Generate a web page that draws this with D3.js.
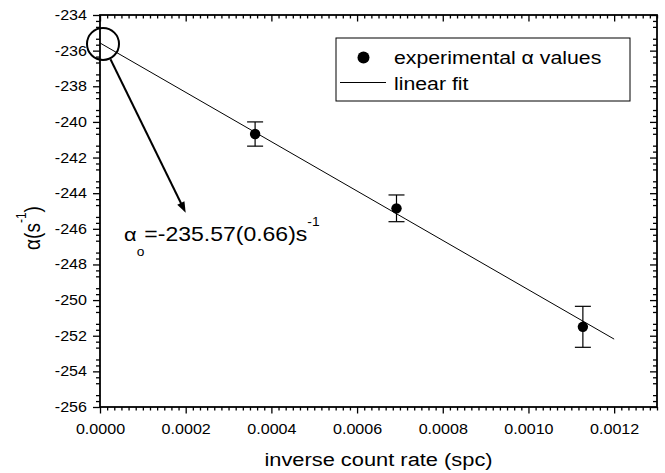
<!DOCTYPE html>
<html><head><meta charset="utf-8">
<script src="https://cdn.jsdelivr.net/npm/d3@7"></script>
<style>
body{margin:0;background:#fff}
svg{display:block;background:#fff}
text{font-family:Arial,"Liberation Sans",sans-serif;fill:#000}
</style>
</head><body>
<svg id="chart" width="665" height="473"></svg>
<script>
// ---- data ----
const xData = [0.000362, 0.000692, 0.001127];
const yData = [-240.68, -244.85, -251.50];
const yErr  = [0.68, 0.75, 1.15];
const fitX = [0, 0.0012];
const fitY = [-235.57, -252.19];
const xTicks = [0, 0.0002, 0.0004, 0.0006, 0.0008, 0.0010, 0.0012];
const yTicks = [-256, -254, -252, -250, -248, -246, -244, -242, -240, -238, -236, -234];
const xDomain = [0, 0.0013];
const yDomain = [-256, -234];
const legendLabels = ["experimental \u03b1 values", "linear fit"];
const xTitle = "inverse count rate (spc)";
const annotIntercept = [0, -235.57];   // circled point (data coords)
const annotTip = [0.0002, -245.1];     // arrow tip (data coords)
const annotTextAt = [0.000056, -246.68];
const annotValue = "=-235.57(0.66)s";

// ---- layout ----
const SX = 1.15; // horizontal text stretch of the reference
const svg = d3.select("#chart");
const x = d3.scaleLinear().domain(xDomain).range([100, 657]);
const y = d3.scaleLinear().domain(yDomain).range([407, 15]);

const xMinor = d3.range(0, 79).map(i => i * 0.0002 / 12).filter((d, i) => i % 12 !== 0);
const yMinor = d3.range(0, 67).map(i => yDomain[0] + i / 3).filter((d, i) => i % 3 !== 0);

function styleAxis(g) {
  g.select(".domain").remove();
  g.selectAll("line").attr("stroke", "#000").attr("stroke-width", 1.3);
}

// bottom
svg.append("g").attr("transform", `translate(0,${y.range()[0]})`)
  .call(d3.axisBottom(x).tickValues(xMinor).tickFormat("").tickSize(3.5)).call(styleAxis);
const gb = svg.append("g").attr("transform", `translate(0,${y.range()[0]})`)
  .call(d3.axisBottom(x).tickValues(xTicks).tickFormat(d3.format(".4f")).tickSize(6.5).tickPadding(11)).call(styleAxis);
gb.selectAll("text").attr("font-size", 14).attr("font-family", "Arial, 'Liberation Sans', sans-serif")
  .attr("transform", `scale(${SX},1)`);
// top (inward)
svg.append("g").attr("transform", `translate(0,${y.range()[1]})`)
  .call(d3.axisTop(x).tickValues(xMinor).tickFormat("").tickSize(-3.5)).call(styleAxis);
svg.append("g").attr("transform", `translate(0,${y.range()[1]})`)
  .call(d3.axisTop(x).tickValues(xTicks).tickFormat("").tickSize(-6.5)).call(styleAxis);
// left
svg.append("g").attr("transform", `translate(${x.range()[0]},0)`)
  .call(d3.axisLeft(y).tickValues(yMinor).tickFormat("").tickSize(4)).call(styleAxis);
const gl = svg.append("g").attr("transform", `translate(${x.range()[0]},0)`)
  .call(d3.axisLeft(y).tickValues(yTicks).tickFormat(d => String(d)).tickSize(7).tickPadding(6)).call(styleAxis);
gl.selectAll("text").attr("font-size", 14).attr("font-family", "Arial, 'Liberation Sans', sans-serif")
  .attr("x", -13 / SX).attr("transform", `scale(${SX},1)`);
// right (inward)
svg.append("g").attr("transform", `translate(${x.range()[1]},0)`)
  .call(d3.axisRight(y).tickValues(yMinor).tickFormat("").tickSize(-4)).call(styleAxis);
svg.append("g").attr("transform", `translate(${x.range()[1]},0)`)
  .call(d3.axisRight(y).tickValues(yTicks).tickFormat("").tickSize(-7)).call(styleAxis);

// frame
svg.append("rect")
  .attr("x", x.range()[0]).attr("y", y.range()[1])
  .attr("width", x.range()[1] - x.range()[0]).attr("height", y.range()[0] - y.range()[1])
  .attr("fill", "none").attr("stroke", "#000").attr("stroke-width", 1.8);

// fit line
svg.append("path")
  .datum(fitX.map((d, i) => [d, fitY[i]]))
  .attr("d", d3.line().x(d => x(d[0])).y(d => y(d[1])))
  .attr("fill", "none").attr("stroke", "#000").attr("stroke-width", 1);

// error bars + points
const pts = xData.map((d, i) => ({x: d, y: yData[i], e: yErr[i]}));
const eb = svg.append("g").attr("stroke", "#000").attr("stroke-width", 1.2);
pts.forEach(p => {
  eb.append("line").attr("x1", x(p.x)).attr("x2", x(p.x)).attr("y1", y(p.y + p.e)).attr("y2", y(p.y - p.e));
  eb.append("line").attr("x1", x(p.x) - 8).attr("x2", x(p.x) + 8).attr("y1", y(p.y + p.e)).attr("y2", y(p.y + p.e));
  eb.append("line").attr("x1", x(p.x) - 8).attr("x2", x(p.x) + 8).attr("y1", y(p.y - p.e)).attr("y2", y(p.y - p.e));
});
svg.append("g").selectAll("circle").data(pts).join("circle")
  .attr("cx", d => x(d.x)).attr("cy", d => y(d.y)).attr("r", 5.2).attr("fill", "#000");

// annotation circle + arrow
const cx = x(annotIntercept[0]) + 3, cy = y(annotIntercept[1]) + 1, cr = 16;
svg.append("circle").attr("cx", cx).attr("cy", cy).attr("r", cr)
  .attr("fill", "none").attr("stroke", "#000").attr("stroke-width", 2);
const tx = x(annotTip[0]), ty = y(annotTip[1]);
const dx = tx - cx, dy = ty - cy, len = Math.hypot(dx, dy), ux = dx / len, uy = dy / len;
const sx0 = cx + ux * (cr + 1), sy0 = cy + uy * (cr + 1);
const headL = 11, headW = 4;
svg.append("line").attr("x1", sx0).attr("y1", sy0)
  .attr("x2", tx - ux * (headL - 2)).attr("y2", ty - uy * (headL - 2))
  .attr("stroke", "#000").attr("stroke-width", 2);
svg.append("path")
  .attr("d", `M${tx},${ty}L${tx - ux*headL - uy*headW},${ty - uy*headL + ux*headW}L${tx - ux*headL + uy*headW},${ty - uy*headL - ux*headW}Z`)
  .attr("fill", "#000");

// annotation text
const at = svg.append("text")
  .attr("transform", `translate(${x(annotTextAt[0])},${y(annotTextAt[1])}) scale(${SX},1)`)
  .attr("font-size", 20);
at.append("tspan").text("\u03b1").attr("font-size", 19);
at.append("tspan").text("o").attr("font-size", 12).attr("dy", 15);
at.append("tspan").text(annotValue).attr("dy", -15);
at.append("tspan").text("-1").attr("font-size", 12).attr("dy", -15);

// legend
const lg = svg.append("g");
lg.append("rect").attr("x", 336).attr("y", 38).attr("width", 294).attr("height", 63)
  .attr("fill", "#fff").attr("stroke", "#000").attr("stroke-width", 1);
lg.append("circle").attr("cx", 363.5).attr("cy", 57.5).attr("r", 6).attr("fill", "#000");
lg.append("line").attr("x1", 340).attr("x2", 386).attr("y1", 82.5).attr("y2", 82.5)
  .attr("stroke", "#000").attr("stroke-width", 1);
legendLabels.forEach((t, i) => {
  lg.append("text").attr("transform", `translate(394,${63.5 + i * 26}) scale(${SX},1)`)
    .attr("font-size", 18.5).text(t);
});

// axis titles
svg.append("text")
  .attr("transform", `translate(${(x.range()[0] + x.range()[1]) / 2},466) scale(${SX},1)`)
  .attr("text-anchor", "middle").attr("font-size", 19).text(xTitle);
const yt = svg.append("text")
  .attr("transform", `translate(40,${(y.range()[0] + y.range()[1]) / 2 + 17}) rotate(-90) scale(1,${SX})`)
  .attr("text-anchor", "middle").attr("font-size", 19);
yt.append("tspan").text("\u03b1(s");
yt.append("tspan").text("-1").attr("font-size", 12).attr("dy", -12);
yt.append("tspan").text(")").attr("dy", 12);
</script>
</body></html>
